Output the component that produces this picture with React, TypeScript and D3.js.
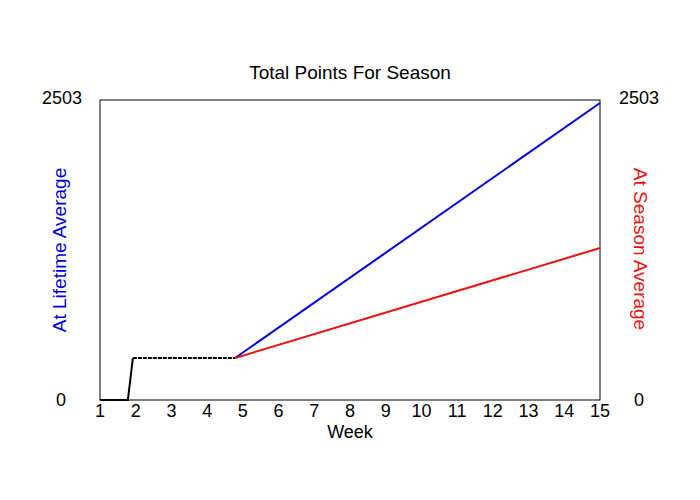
import * as d3 from "d3";

// breakpoints of each series (week, points)
const actualWeeks = [1, 1.78, 1.92, 4.78];
const actualPoints = [0, 0, 350, 350];
const forecastWeeks = [4.78, 15];
const lifetimePoints = [350, 2478];
const seasonPoints = [350, 1268];
const weekTicks = [1, 2, 3, 4, 5, 6, 7, 8, 9, 10, 11, 12, 13, 14, 15];
const yMax = 2503;

const W = 700;
const H = 500;
const left = 100;
const right = 600;
const top = 100;
const bottom = 400;
const font = "'Liberation Sans', Arial, sans-serif";

type Pt = { x: number; y: number };

const App = () => {
  const x = d3.scaleLinear().domain([1, 15]).range([left, right]);
  const y = d3.scaleLinear().domain([0, yMax]).range([bottom, top]);
  const line = d3
    .line<Pt>()
    .x((d) => x(d.x))
    .y((d) => y(d.y));

  const zip = (xs: number[], ys: number[]) => xs.map((v, i) => ({ x: v, y: ys[i] }));
  const actual = zip(actualWeeks, actualPoints);
  const lifetime = zip(forecastWeeks, lifetimePoints);
  const season = zip(forecastWeeks, seasonPoints);

  return (
    <svg
      width={W}
      height={H}
      style={{ position: "absolute", left: 0, top: 0, background: "white" }}
      fontFamily={font}
    >
      <rect x={0} y={0} width={W} height={H} fill="white" />
      <text x={350} y={79} textAnchor="middle" fontSize={19}>
        Total Points For Season
      </text>
      <rect
        x={left}
        y={top}
        width={right - left}
        height={bottom - top}
        fill="none"
        stroke="black"
        strokeWidth={1}
      />
      <path d={line(lifetime) ?? undefined} stroke="#0000dd" strokeWidth={2} fill="none" />
      <path d={line(season) ?? undefined} stroke="#ee1111" strokeWidth={2} fill="none" />
      <path d={line(actual.slice(0, 3)) ?? undefined} stroke="black" strokeWidth={2} fill="none" />
      <path
        d={line(actual.slice(2)) ?? undefined}
        stroke="black"
        strokeWidth={2}
        strokeDasharray="4,1"
        fill="none"
      />
      {weekTicks.map((t) => (
        <text key={t} x={x(t)} y={417} textAnchor="middle" fontSize={18}>
          {t}
        </text>
      ))}
      <text x={350} y={438} textAnchor="middle" fontSize={18}>
        Week
      </text>
      <text x={82} y={y(yMax) + 4} textAnchor="end" fontSize={18}>
        {yMax}
      </text>
      <text x={66} y={y(0) + 6} textAnchor="end" fontSize={18}>
        0
      </text>
      <text x={619} y={y(yMax) + 4} textAnchor="start" fontSize={18}>
        {yMax}
      </text>
      <text x={634} y={y(0) + 6} textAnchor="start" fontSize={18}>
        0
      </text>
      <text
        transform={`translate(66,250) rotate(-90)`}
        textAnchor="middle"
        fontSize={19}
        fill="#0000dd"
      >
        At Lifetime Average
      </text>
      <text
        transform={`translate(634,249) rotate(90)`}
        textAnchor="middle"
        fontSize={19}
        fill="#ee1111"
      >
        At Season Average
      </text>
    </svg>
  );
};

export default App;
